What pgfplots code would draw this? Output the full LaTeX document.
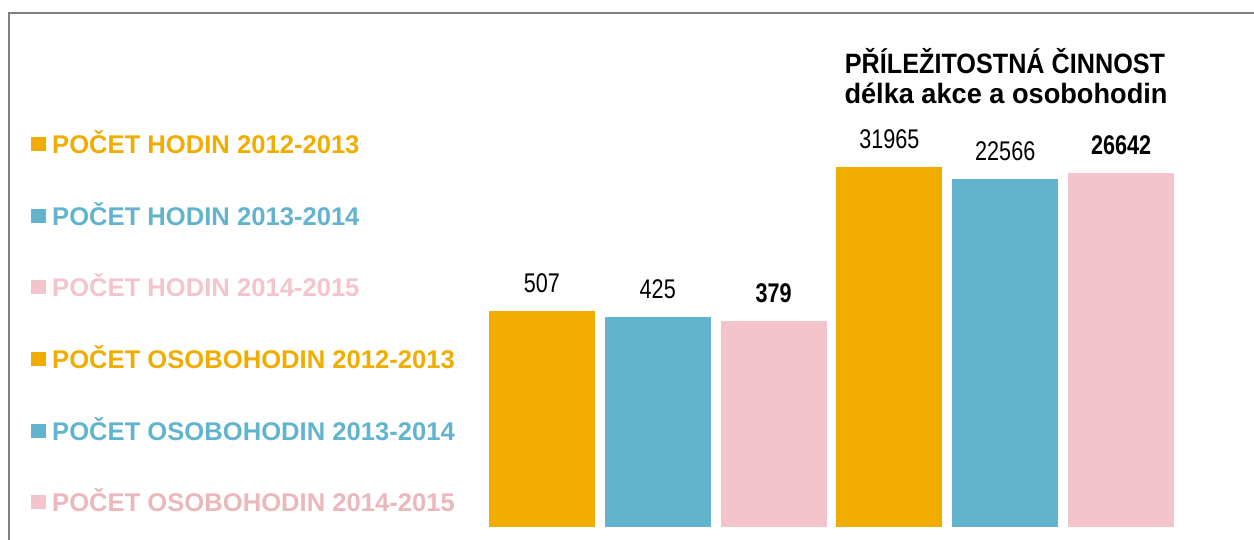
\documentclass[border=0pt]{standalone}
\usepackage{pgfplots}
\pgfplotsset{compat=1.18}
\usepackage{fontspec}
\setmainfont{Liberation Sans}
\newfontfamily\condfont[FakeStretch=0.8]{Liberation Sans}
\newfontfamily\titlefont[FakeStretch=0.9]{Liberation Sans}
\newfontfamily\titlefontb[FakeStretch=0.97]{Liberation Sans}
\definecolor{cOr}{HTML}{F0AD00}
\definecolor{cBl}{HTML}{62B4CE}
\definecolor{cPk}{HTML}{F4C4CC}
\definecolor{cPkD}{HTML}{EBB7BA}
\definecolor{frame}{HTML}{808080}
\begin{document}
\begin{tikzpicture}[x=1pt,y=1pt]
\useasboundingbox (0,0) rectangle (1254,540);
\draw[frame, line width=2pt] (9,0) -- (9,527) -- (1254,527);
% legend
\newcommand\legrow[4]{%
  \fill[#1] (31,#3-7) rectangle (46,#3+7);
  \node[anchor=base west, inner sep=0pt, text=#2, font=\fontsize{25.6}{26}\selectfont\bfseries] at (52,#3-9.2) {#4};}
\legrow{cOr}{cOr}{396}{POČET HODIN 2012-2013}
\legrow{cBl}{cBl}{324}{POČET HODIN 2013-2014}
\legrow{cPk}{cPk}{253}{POČET HODIN 2014-2015}
\legrow{cOr}{cOr}{181}{POČET OSOBOHODIN 2012-2013}
\legrow{cBl}{cBl}{109}{POČET OSOBOHODIN 2013-2014}
\legrow{cPk}{cPkD}{38}{POČET OSOBOHODIN 2014-2015}
% title
\node[anchor=base, inner sep=0pt, font=\titlefont\fontsize{28}{28}\selectfont\bfseries] at (1005,466) {PŘÍLEŽITOSTNÁ ČINNOST};
\node[anchor=base, inner sep=0pt, font=\titlefontb\fontsize{28}{28}\selectfont\bfseries] at (1006,436) {délka akce a osobohodin};
\begin{axis}[
  at={(484pt,13pt)}, anchor=south west,
  scale only axis, width=695pt, height=400pt,
  ymode=log, ymin=1, ymax=100000,
  xmin=-0.5, xmax=5.5,
  axis lines=none, clip=false,
  every axis plot/.append style={ybar, bar width=106pt, draw=none},
  nodes near coords,
  point meta=explicit symbolic,
  nodes near coords style={anchor=south, inner sep=0pt, yshift=18pt, text=black,
    font=\condfont\fontsize{27}{27}\selectfont},
]
\addplot[fill=cOr] coordinates {(0,507) [507]};
\addplot[fill=cBl] coordinates {(1,425) [425]};
\addplot[fill=cPk, nodes near coords style={font=\condfont\fontsize{27}{27}\selectfont\bfseries}] coordinates {(2,379) [379]};
\addplot[fill=cOr] coordinates {(3,31965) [31965]};
\addplot[fill=cBl] coordinates {(4,22566) [22566]};
\addplot[fill=cPk, nodes near coords style={font=\condfont\fontsize{27}{27}\selectfont\bfseries}] coordinates {(5,26642) [26642]};
\end{axis}
\end{tikzpicture}
\end{document}
